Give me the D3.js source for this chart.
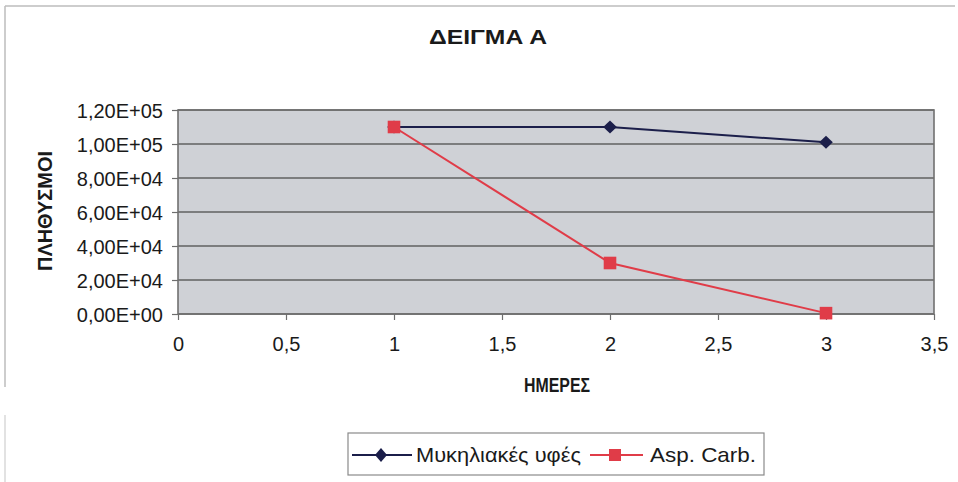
<!DOCTYPE html>
<html>
<head>
<meta charset="utf-8">
<script src="https://cdn.jsdelivr.net/npm/d3@7"></script>
<style>
  html, body { margin: 0; padding: 0; background: #fff; }
  svg { display: block; }
  text { font-family: "Liberation Sans", Arial, sans-serif; fill: #1a1a1a; }
</style>
</head>
<body>
<svg id="chart" width="958" height="482"></svg>
<script>
// Chart data
const days = [1, 2, 3];
const mycelium = [110000, 110000, 101000];   // Μυκηλιακές υφές
const aspCarb = [110000, 30000, 500];        // Asp. Carb.
const xTicks = [0, 0.5, 1, 1.5, 2, 2.5, 3, 3.5];
const yTicks = [0, 20000, 40000, 60000, 80000, 100000, 120000];
const seriesNames = ["Μυκηλιακές υφές", "Asp. Carb."];
const seriesColors = ["#1b1e4a", "#e03c48"];

const svg = d3.select("#chart");
const plot = { left: 178, right: 934, top: 110, bottom: 314 };

const x = d3.scaleLinear().domain([0, 3.5]).range([plot.left, plot.right]);
const y = d3.scaleLinear().domain([0, 120000]).range([plot.bottom, plot.top]);

// Fit a text element to a fixed width
function fitWidth(sel, width) {
  return sel.attr("textLength", width).attr("lengthAdjust", "spacingAndGlyphs");
}

// Outer frame edges
svg.append("line").attr("x1", 5).attr("x2", 955).attr("y1", 6).attr("y2", 6)
  .attr("stroke", "#bdbdbd").attr("stroke-width", 1.5);
svg.append("line").attr("x1", 5).attr("x2", 5).attr("y1", 6).attr("y2", 387)
  .attr("stroke", "#bdbdbd").attr("stroke-width", 1.5);
svg.append("line").attr("x1", 5).attr("x2", 5).attr("y1", 415).attr("y2", 482)
  .attr("stroke", "#cfcfcf").attr("stroke-width", 1.2);

// Plot background
svg.append("rect")
  .attr("x", plot.left).attr("y", plot.top)
  .attr("width", plot.right - plot.left).attr("height", plot.bottom - plot.top)
  .attr("fill", "#cfd1d6");

// Horizontal gridlines
svg.append("g").selectAll("line").data(yTicks).join("line")
  .attr("x1", plot.left).attr("x2", plot.right)
  .attr("y1", d => y(d)).attr("y2", d => y(d))
  .attr("stroke", "#606060").attr("stroke-width", 1.4);

// Plot border
svg.append("rect")
  .attr("x", plot.left).attr("y", plot.top)
  .attr("width", plot.right - plot.left).attr("height", plot.bottom - plot.top)
  .attr("fill", "none").attr("stroke", "#707070").attr("stroke-width", 1.6);

// Y axis
const yAxis = d3.axisLeft(y).tickValues(yTicks).tickSize(6).tickPadding(9)
  .tickFormat(d => {
    const [m, e] = d3.format(".2e")(d).split("e");
    return m.replace(".", ",") + "E" + e[0] + e.slice(1).padStart(2, "0");
  });
const gy = svg.append("g").attr("transform", `translate(${plot.left},0)`).call(yAxis);
gy.select(".domain").remove();
gy.selectAll(".tick line").attr("stroke", "#6e6e6e").attr("stroke-width", 1.2);
gy.selectAll(".tick text").attr("font-size", 20).attr("fill", "#1f1f1f").attr("dy", "0.36em");

// X axis
const xAxis = d3.axisBottom(x).tickValues(xTicks).tickSize(6).tickPadding(17)
  .tickFormat(d => String(d).replace(".", ","));
const gx = svg.append("g").attr("transform", `translate(0,${plot.bottom})`).call(xAxis);
gx.select(".domain").remove();
gx.selectAll(".tick line").attr("stroke", "#6e6e6e").attr("stroke-width", 1.2);
gx.selectAll(".tick text").attr("font-size", 20).attr("fill", "#1f1f1f");

// Titles
fitWidth(svg.append("text").attr("x", 488).attr("y", 44).attr("text-anchor", "middle")
  .attr("font-size", 20).attr("font-weight", "bold")
  .text("ΔΕΙΓΜΑ Α"), 118);
fitWidth(svg.append("text").attr("x", 557).attr("y", 392).attr("text-anchor", "middle")
  .attr("font-size", 20).attr("font-weight", "bold")
  .text("ΗΜΕΡΕΣ"), 66);
fitWidth(svg.append("text").attr("transform", "translate(52,211) rotate(-90)")
  .attr("text-anchor", "middle")
  .attr("font-size", 20).attr("font-weight", "bold")
  .text("ΠΛΗΘΥΣΜΟΙ"), 120);

// Series lines and markers
const line = d3.line().x(d => x(d[0])).y(d => y(d[1]));
const series = [mycelium, aspCarb];
const markerPath = (i, w, h) => i === 0
  ? `M0,${-h}L${w},0L0,${h}L${-w},0Z`
  : `M${-w},${-w}H${w}V${w}H${-w}Z`;

// Lines: red underneath, blue on top
[1, 0].forEach(i => {
  const pts = days.map((d, k) => [d, series[i][k]]);
  svg.append("path").datum(pts).attr("d", line)
    .attr("fill", "none").attr("stroke", seriesColors[i]).attr("stroke-width", 2);
});
// Markers: red squares sit over the diamonds where they coincide
[0, 1].forEach(i => {
  const pts = days.map((d, k) => [d, series[i][k]]);
  svg.append("g").selectAll("path").data(pts).join("path")
    .attr("transform", d => `translate(${x(d[0])},${y(d[1])})`)
    .attr("d", i === 0 ? markerPath(0, 6.8, 6.5) : markerPath(1, 6.3))
    .attr("fill", seriesColors[i]);
});

// Legend
const lg = svg.append("g");
lg.append("rect").attr("x", 348).attr("y", 433).attr("width", 416).attr("height", 42)
  .attr("fill", "#fff").attr("stroke", "#8a8a8a").attr("stroke-width", 1.2);
const legendItems = [
  { x0: 352, x1: 412, mx: 381, tx: 416, w: 165 },
  { x0: 590, x1: 643, mx: 615, tx: 650, w: 106 }
];
legendItems.forEach((it, i) => {
  lg.append("line").attr("x1", it.x0).attr("x2", it.x1).attr("y1", 455).attr("y2", 455)
    .attr("stroke", seriesColors[i]).attr("stroke-width", 2);
  lg.append("path").attr("transform", `translate(${it.mx},455)`)
    .attr("d", i === 0 ? markerPath(0, 6, 7) : markerPath(1, 6))
    .attr("fill", seriesColors[i]);
  fitWidth(lg.append("text").attr("x", it.tx).attr("y", 462).attr("font-size", 21)
    .text(seriesNames[i]), it.w);
});
</script>
</body>
</html>
